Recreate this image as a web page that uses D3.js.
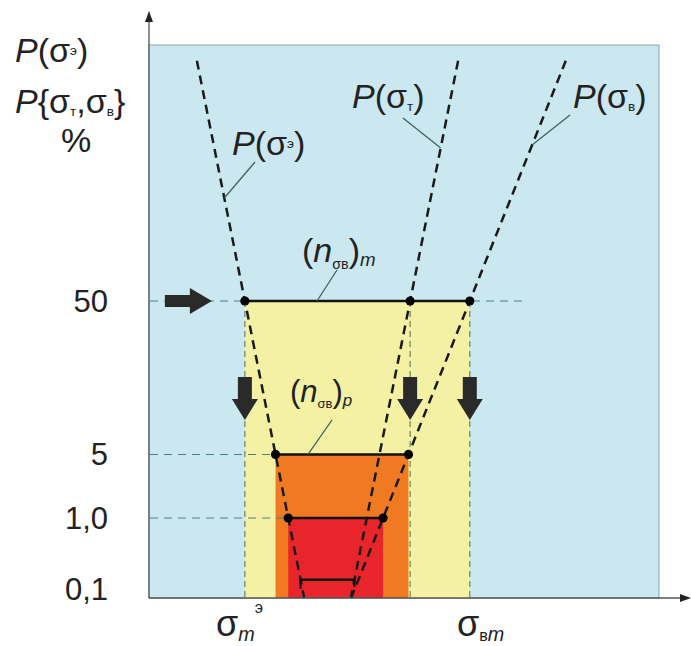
<!DOCTYPE html>
<html><head><meta charset="utf-8">
<script src="https://cdn.jsdelivr.net/npm/d3@7"></script>
<style>
body{margin:0;background:#fff}
svg{display:block}
text{font-family:"Liberation Sans",Arial,Helvetica,sans-serif;fill:#222}
</style>
</head><body>
<svg id="c" width="691" height="646"></svg>
<script>
// ---------------- data ----------------
const yTickValues = [50, 5, 1, 0.1];          // % (probability scale)
const yTickLabels = ["50", "5", "1,0", "0,1"];
const curveKeys = ["E", "T", "B"];            // P(σэ), P(σт), P(σв)
const curveSigmaAt50 = [18.8, 51.2, 62.9];    // σ (arb. units) at P = 50 %
const curveSigmaAt1 = [27.3, 42.7, 45.9];     // σ at P = 1 %
const curveTopP = 99.5;                       // curves start at this P
const levelP = [50, 5, 1];                    // levels with rectangles
const levelFill = ["#f4f1a4", "#f07a22", "#e8252a"];
const bracketP = 0.14;                        // small bracket near bottom
const refLine50RightSigma = 74.3;             // dashed 50 % line extends to

// ---------------- helpers ----------------
function probit(p){
  const a=[-3.969683028665376e+01,2.209460984245205e+02,-2.759285104469687e+02,1.383577518672690e+02,-3.066479806614716e+01,2.506628277459239e+00];
  const b=[-5.447609879822406e+01,1.615858368580409e+02,-1.556989798598866e+02,6.680131188771972e+01,-1.328068155288572e+01];
  const c=[-7.784894002430293e-03,-3.223964580411365e-01,-2.400758277161838e+00,-2.549732539343734e+00,4.374664141464968e+00,2.938163982698783e+00];
  const d=[7.784695709041462e-03,3.224671290700398e-01,2.445134137142996e+00,3.754408661907416e+00];
  const pl=0.02425, ph=1-pl; let q,r;
  if(p<pl){q=Math.sqrt(-2*Math.log(p));return (((((c[0]*q+c[1])*q+c[2])*q+c[3])*q+c[4])*q+c[5])/((((d[0]*q+d[1])*q+d[2])*q+d[3])*q+1);}
  if(p<=ph){q=p-0.5;r=q*q;return (((((a[0]*r+a[1])*r+a[2])*r+a[3])*r+a[4])*r+a[5])*q/(((((b[0]*r+b[1])*r+b[2])*r+b[3])*r+b[4])*r+1);}
  q=Math.sqrt(-2*Math.log(1-p));return -(((((c[0]*q+c[1])*q+c[2])*q+c[3])*q+c[4])*q+c[5])/((((d[0]*q+d[1])*q+d[2])*q+d[3])*q+1);
}

// ---------------- layout ----------------
const PL=149, PR=659, PT=45, PB=598;
const svg = d3.select("#c");
const x = d3.scaleLinear().domain([0,100]).range([PL,PR]);
const yz = d3.scaleLinear().domain([probit(0.5), probit(0.01)]).range([301, 518]);
const y = p => yz(probit(p/100));
const z1 = probit(0.01);
const sigma = (i, z) => curveSigmaAt50[i] + (curveSigmaAt1[i]-curveSigmaAt50[i]) * z / z1;
const sigmaP = (i, p) => sigma(i, probit(p/100));
const zBottom = yz.invert(PB);
const iE=0, iT=1, iB=2;

// panel
svg.append("rect").attr("x",PL).attr("y",PT).attr("width",PR-PL).attr("height",PB-PT)
  .attr("fill","#cbe8f0").attr("stroke","#8aa6aa").attr("stroke-width",1);

// level rectangles
levelP.forEach((p,k)=>{
  const x0 = x(sigmaP(iE,p)), x1 = x(sigmaP(iB,p));
  svg.append("rect").attr("x",x0).attr("y",y(p)).attr("width",x1-x0).attr("height",PB-y(p))
    .attr("fill",levelFill[k]);
});

// vertical dashed lines at 50 %
curveKeys.forEach((k,i)=>{
  const xx = x(sigmaP(i,50));
  svg.append("line").attr("x1",xx).attr("x2",xx).attr("y1",y(50)).attr("y2",PB)
    .attr("stroke","#5b7d5a").attr("stroke-width",1.1).attr("stroke-dasharray","6,4");
});

// horizontal dashed reference lines
levelP.forEach((p,k)=>{
  const xr = k===0 ? x(refLine50RightSigma) : x(sigmaP(iE,p));
  svg.append("line").attr("x1",PL+1).attr("x2",xr).attr("y1",y(p)).attr("y2",y(p))
    .attr("stroke","#4f7f86").attr("stroke-width",1.1).attr("stroke-dasharray","8,6");
});

// solid level lines
levelP.forEach(p=>{
  svg.append("line").attr("x1",x(sigmaP(iE,p))).attr("x2",x(sigmaP(iB,p))).attr("y1",y(p)).attr("y2",y(p))
    .attr("stroke","#111").attr("stroke-width",2.4);
});

// dashed curves (straight on probability paper)
curveKeys.forEach((k,i)=>{
  const zt = probit(curveTopP/100);
  svg.append("line")
    .attr("x1",x(sigma(i,zt))).attr("y1",yz(zt))
    .attr("x2",x(sigma(i,zBottom))).attr("y2",PB)
    .attr("stroke","#1a1a1a").attr("stroke-width",2.5).attr("stroke-dasharray","9,6");
});

// bracket near bottom
{
  const yb = y(bracketP), xa = x(sigmaP(iE,bracketP)), xb = x(sigmaP(iT,bracketP));
  svg.append("path").attr("d",`M${xa},${yb+9}V${yb}H${xb}V${yb+7}`)
    .attr("fill","none").attr("stroke","#111").attr("stroke-width",2.4);
}

// dots
const dots = [];
levelP.forEach(p=>{
  dots.push([sigmaP(iE,p),p]);
  if(p===50) dots.push([sigmaP(iT,p),p]);
  dots.push([sigmaP(iB,p),p]);
});
svg.selectAll("circle.dot").data(dots).join("circle").attr("class","dot")
  .attr("cx",d=>x(d[0])).attr("cy",d=>y(d[1])).attr("r",4.6).attr("fill","#000");

// block arrows
function arrowPath(len, body, head, headLen){
  // pointing +x, tip at (0,0)
  return `M0,0L${-headLen},${-head/2}L${-headLen},${-body/2}L${-len},${-body/2}L${-len},${body/2}L${-headLen},${body/2}L${-headLen},${head/2}Z`;
}
const arrowFill = "#2a2a2a";
svg.append("path").attr("d",arrowPath(47,12,26,22))
  .attr("transform",`translate(${x(sigmaP(iE,50))-33},${y(50)})`).attr("fill",arrowFill);
curveKeys.forEach((k,i)=>{
  svg.append("path").attr("d",arrowPath(43,14,26,21))
    .attr("transform",`translate(${x(sigmaP(i,50))},420) rotate(90)`).attr("fill",arrowFill);
});

// axes
const axisCol="#555";
svg.append("line").attr("x1",PL).attr("x2",PL).attr("y1",PB).attr("y2",20).attr("stroke",axisCol).attr("stroke-width",1.3);
svg.append("path").attr("d",`M${PL},11L${PL-4},22L${PL+4},22Z`).attr("fill","#222");
svg.append("line").attr("x1",PL).attr("x2",682).attr("y1",PB).attr("y2",PB).attr("stroke",axisCol).attr("stroke-width",1.3);
svg.append("path").attr("d",`M691,${PB}L680,${PB-4}L680,${PB+4}Z`).attr("fill","#222");

// y tick labels
svg.selectAll("text.tick").data(yTickValues).join("text").attr("class","tick")
  .attr("x",108).attr("y",d=>y(d)+11).attr("text-anchor","end").attr("font-size",31)
  .text((d,i)=>yTickLabels[i]);

// rich text helper
function rich(x0,y0,parts,fs,anchor){
  const t = svg.append("text").attr("x",x0).attr("y",y0).attr("font-size",fs);
  if(anchor) t.attr("text-anchor",anchor);
  let cur=0;
  parts.forEach(p=>{
    const off = p.off ? p.off*fs : 0;
    const ts = t.append("tspan").text(p.t).attr("dy",off-cur);
    cur=off;
    if(p.s) ts.attr("font-size",fs*p.s);
    if(p.it) ts.attr("font-style","italic");
  });
  return t;
}
const FS=34;
// axis title
rich(15,62,[{t:"P",it:1},{t:"(σ"},{t:"э",s:0.4,off:-0.2},{t:")"}],FS);
rich(15,113,[{t:"P",it:1},{t:"{σ"},{t:"т",s:0.4,off:0.08},{t:",σ"},{t:"в",s:0.4,off:0.08},{t:"}"}],FS);
rich(76,152,[{t:"%"}],FS,"middle");

// curve labels
rich(232,155,[{t:"P",it:1},{t:"(σ"},{t:"э",s:0.4,off:-0.2},{t:")"}],FS);
rich(352,108,[{t:"P",it:1},{t:"(σ"},{t:"т",s:0.4,off:0.08},{t:")"}],FS);
rich(573,108,[{t:"P",it:1},{t:"(σ"},{t:"в",s:0.4,off:0.08},{t:")"}],FS);
rich(302,262,[{t:"("},{t:"n",it:1},{t:"σв",s:0.42,off:0.2},{t:")"},{t:"m",it:1,s:0.55,off:0.12}],FS);
rich(290,402,[{t:"("},{t:"n",it:1},{t:"σв",s:0.42,off:0.2},{t:")"},{t:"р",it:1,s:0.55,off:0.12}],31);

// x labels
rich(216,636,[{t:"σ"},{t:"m",it:1,s:0.55,off:0.15},{t:"э",s:0.45,off:-0.65}],36);
rich(457,636,[{t:"σ"},{t:"в",s:0.45,off:0.15},{t:"m",it:1,s:0.55,off:0.15}],36);

// leader lines
const leadCol="#3d6262";
function leader(x0,y0,x1,y1){
  svg.append("line").attr("x1",x0).attr("y1",y0).attr("x2",x1).attr("y2",y1)
    .attr("stroke",leadCol).attr("stroke-width",1.3);
}
const onCurve = (i,yy)=>x(sigma(i,yz.invert(yy)));
leader(255,162,onCurve(iE,198),198);
leader(403,118,onCurve(iT,148),148);
leader(570,115,onCurve(iB,145),145);
leader(337,270,317,y(50));
leader(332,420,308,y(5));
</script>
</body></html>
